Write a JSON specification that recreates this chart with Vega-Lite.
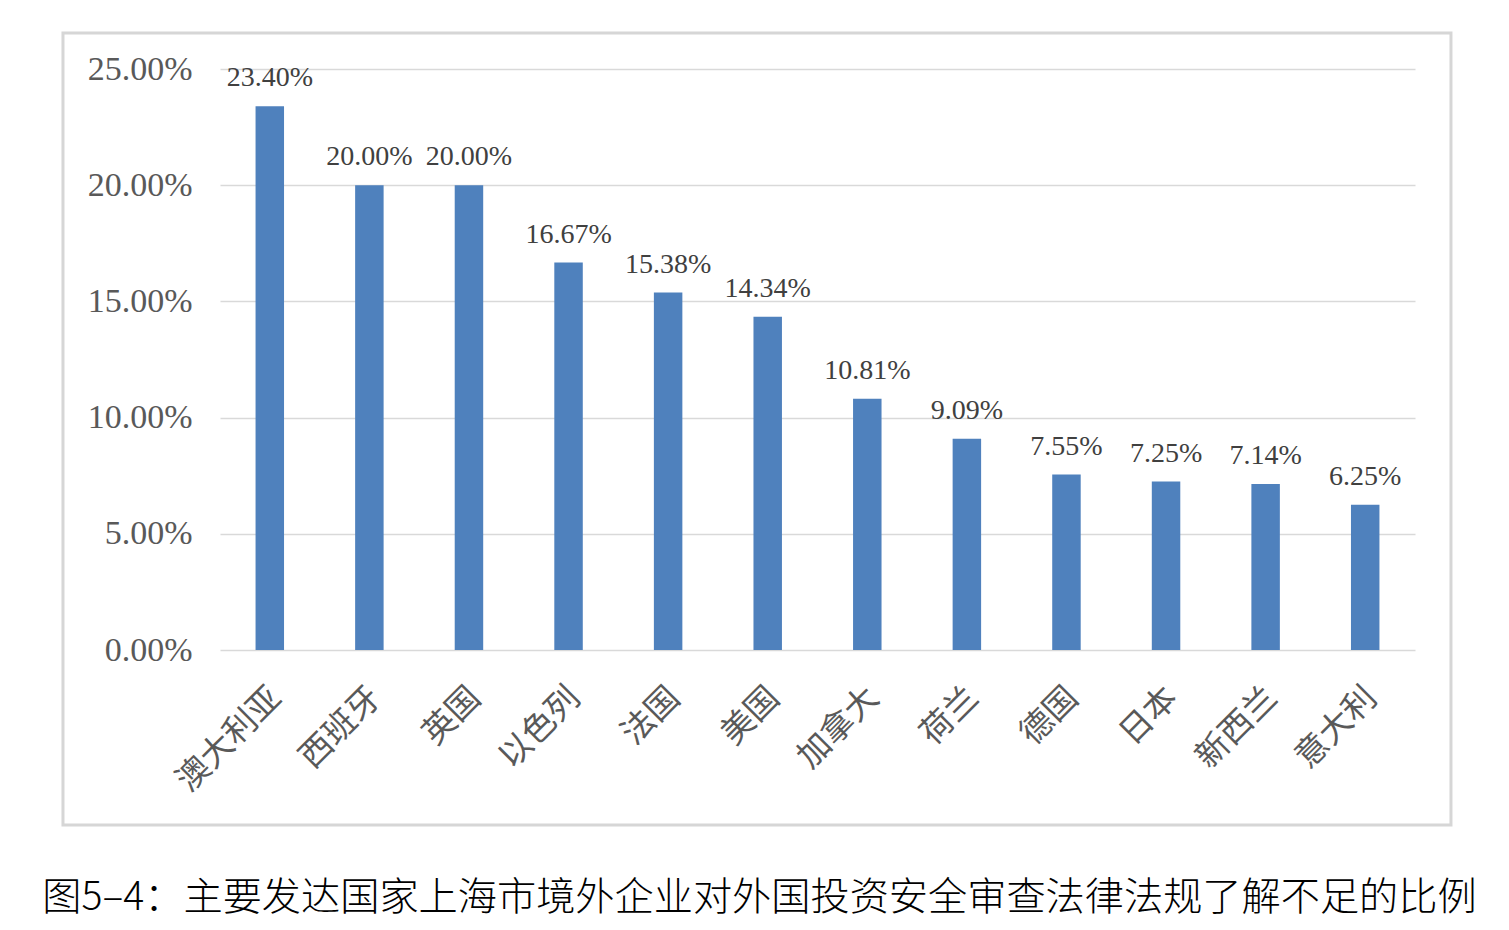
{
  "$schema": "https://vega.github.io/schema/vega-lite/v6.json",
  "width": 1195,
  "height": 581,
  "autosize": {"type": "none"},
  "padding": {"left": 220, "top": 69, "right": 94, "bottom": 280},
  "background": "white",
  "config": {"view": {"stroke": null}},
  "title": {
    "text": "图5–4：主要发达国家上海市境外企业对外国投资安全审查法律法规了解不足的比例",
    "orient": "bottom",
    "anchor": "middle",
    "font": "Noto Sans CJK SC",
    "fontSize": 39.2,
    "fontWeight": 300,
    "color": "#000000",
    "offset": 53,
    "dx": -58
  },
  "data": {
    "values": [
      {"country": "澳大利亚", "value": 0.2340},
      {"country": "西班牙", "value": 0.2000},
      {"country": "英国", "value": 0.2000},
      {"country": "以色列", "value": 0.1667},
      {"country": "法国", "value": 0.1538},
      {"country": "美国", "value": 0.1434},
      {"country": "加拿大", "value": 0.1081},
      {"country": "荷兰", "value": 0.0909},
      {"country": "德国", "value": 0.0755},
      {"country": "日本", "value": 0.0725},
      {"country": "新西兰", "value": 0.0714},
      {"country": "意大利", "value": 0.0625}
    ]
  },
  "layer": [
    {
      "data": {"values": [{}]},
      "mark": {"type": "rect", "filled": false, "stroke": "#d6d6d6", "strokeWidth": 3},
      "encoding": {
        "x": {"datum": -0.1314, "type": "quantitative", "scale": {"domain": [0, 1]}, "axis": null},
        "x2": {"datum": 1.0301},
        "y": {"datum": 1.062, "type": "quantitative", "scale": {"domain": [0, 1]}, "axis": null},
        "y2": {"datum": -0.301}
      }
    },
    {
      "encoding": {
        "x": {
          "field": "country",
          "type": "nominal",
          "sort": null,
          "scale": {"paddingInner": 0.714, "paddingOuter": 0.357},
          "axis": {
            "title": null,
            "labelAngle": -45,
            "labelFont": "Noto Sans CJK SC",
            "labelFontSize": 33,
            "labelColor": "#595959",
            "labelPadding": 31,
            "labelOffset": -5,
            "ticks": false,
            "domain": false
          }
        },
        "y": {
          "field": "value",
          "type": "quantitative",
          "scale": {"domain": [0, 0.25]},
          "axis": {
            "title": null,
            "values": [0, 0.05, 0.1, 0.15, 0.2, 0.25],
            "format": ".2%",
            "grid": true,
            "gridColor": "#d9d9d9",
            "gridWidth": 1.5,
            "domain": false,
            "ticks": false,
            "labelPadding": 28,
            "labelFont": "Liberation Serif",
            "labelFontSize": 34,
            "labelColor": "#595959"
          }
        }
      },
      "layer": [
        {"mark": {"type": "bar", "color": "#4F81BD"}},
        {
          "mark": {"type": "text", "dy": -20, "baseline": "alphabetic", "font": "Liberation Serif", "fontSize": 28, "color": "#404040"},
          "encoding": {"text": {"field": "value", "type": "quantitative", "format": ".2%"}}
        }
      ]
    }
  ],
  "resolve": {"scale": {"x": "independent", "y": "independent"}, "axis": {"x": "independent", "y": "independent"}}
}
